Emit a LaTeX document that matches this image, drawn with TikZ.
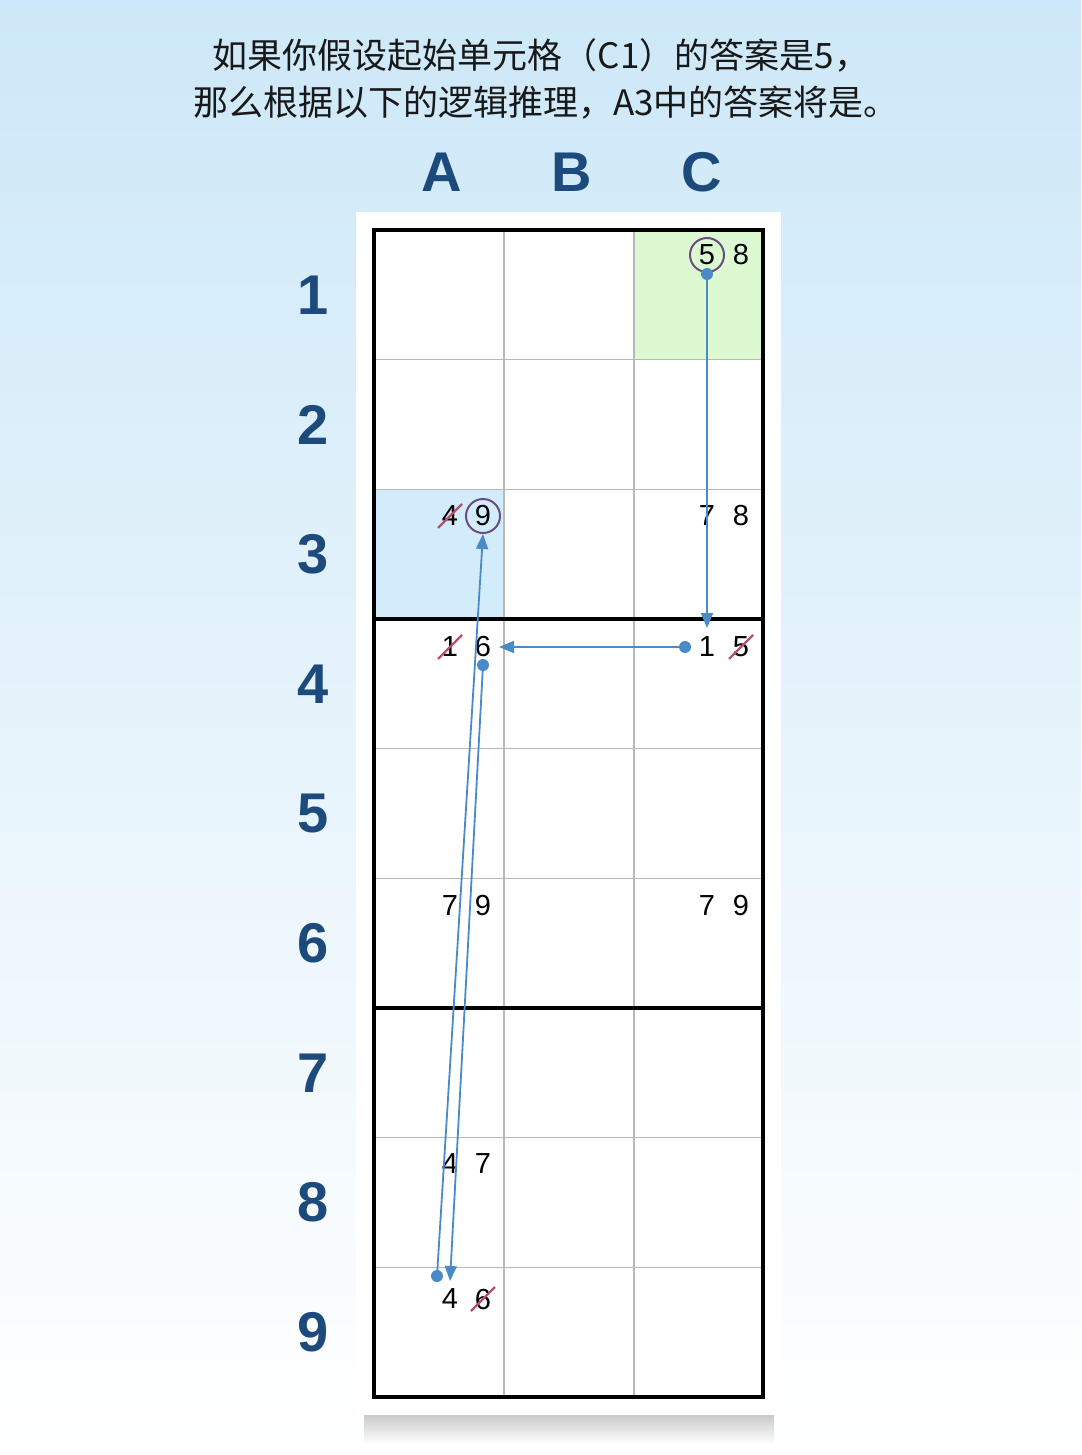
\documentclass[tikz,border=0pt]{standalone}
\usepackage{fontspec}
\setmainfont{Liberation Sans}
\newfontfamily\cjk{Noto Sans CJK SC}
\usetikzlibrary{arrows.meta}
\definecolor{labelblue}{HTML}{1D4A7C}
\definecolor{arrowblue}{HTML}{4A8AC9}
\definecolor{strikered}{HTML}{B5506E}
\definecolor{ringpurple}{HTML}{6B4C80}
\definecolor{skytop}{HTML}{CDE8F8}
\definecolor{cellgreen}{HTML}{DDF9D2}
\definecolor{cellblue}{HTML}{D2ECFB}
\definecolor{gridgray}{HTML}{B8B8B8}
\tikzset{
  cand/.style={font=\fontsize{14.5}{14.5}\selectfont, inner sep=0pt},
  headlabel/.style={font=\fontsize{28}{28}\selectfont\bfseries, text=labelblue},
  titletext/.style={font=\cjk\fontsize{17.5}{17.5}\selectfont, text=black!90},
  ring/.style={draw=ringpurple, line width=1pt, circle, minimum size=17pt, inner sep=0pt},
  strike/.style={strikered, line width=1.2pt},
  chain/.style={draw=arrowblue, line width=0.9pt, -{Triangle[length=7.5pt,width=6pt]}},
  dot/.style={fill=arrowblue}
}

\begin{document}
\begin{tikzpicture}[x=0.5pt,y=-0.5pt]
			\useasboundingbox (0,0) rectangle (1081,1455);
			\shade[top color=skytop, middle color=skytop!45!white, bottom color=white] (0,0) rectangle (1081,1455);
			\shade[top color=gray!45, bottom color=white] (364,1413) rectangle (774,1444);
			\fill[white] (356,212) rectangle (781,1415);
			\node[titletext] (titleone) at (541,55) {如果你假设起始单元格（C1）的答案是5，};
			\node[titletext] (titletwo) at (546,103) {那么根据以下的逻辑推理，A3中的答案将是。};
			\foreach \c/\x in {A/442,B/572,C/702}
			\node[headlabel] (col\c) at (\x,172) {\c};
			\foreach \r in {1,...,9}
			\node[headlabel] (row\r) at (313,{230+129.67*(\r-0.5)}) {\r};
			\fill[cellgreen] (634,230) rectangle (763,359.67);
			\fill[cellblue] (374,489.33) rectangle (504,619);
			\foreach \x in {504,634}
			\draw[gridgray, line width=0.75pt] (\x,230) -- (\x,1397);
			\foreach \i in {1,2,4,5,7,8}
			\draw[gridgray, line width=0.75pt] (374,{230+129.67*\i}) -- (763,{230+129.67*\i});
			\foreach \i in {3,6}
			\draw[black, line width=2pt] (374,{230+129.67*\i}) -- (763,{230+129.67*\i});
			\draw[black, line width=2pt] (374,230) rectangle (763,1397);
			\node[cand] (c1five) at (707,255) {5};
			\node[ring] (c1ring) at (707,255) {};
			\node[cand] (c1eight) at (741,255) {8};
			\node[cand] (a3four) at (450,516) {4};
			\node[cand] (a3nine) at (483,516) {9};
			\node[ring] (a3ring) at (483,516) {};
			\node[cand] (c3seven) at (707,516) {7};
			\node[cand] (c3eight) at (741,516) {8};
			\node[cand] (a4one) at (450,647) {1};
			\node[cand] (a4six) at (483,647) {6};
			\node[cand] (c4one) at (707,647) {1};
			\node[cand] (c4five) at (741,647) {5};
			\node[cand] (a6seven) at (450,906) {7};
			\node[cand] (a6nine) at (483,906) {9};
			\node[cand] (c6seven) at (707,906) {7};
			\node[cand] (c6nine) at (741,906) {9};
			\node[cand] (a8four) at (450,1164) {4};
			\node[cand] (a8seven) at (483,1164) {7};
			\node[cand] (a9four) at (450,1299) {4};
			\node[cand] (a9six) at (483,1299) {6};
			\foreach \n in {a3four,a4one,c4five,a9six}
			\draw[strike] ([shift={(-12,12)}]\n.center) -- ([shift={(12,-12)}]\n.center);
			\coordinate (c1dot) at (707,274);
			\coordinate (c4tip) at (707,628);
			\coordinate (c4dot) at (685,647);
			\coordinate (a4tip) at (499,647);
			\coordinate (a4dot) at (483,665);
			\coordinate (a9tip) at (450,1281);
			\coordinate (a9dot) at (437,1276);
			\coordinate (a3tip) at (483,534);
			\draw[chain] (c1dot) -- (c4tip);
			\draw[chain] (c4dot) -- (a4tip);
			\draw[chain] (a4dot) -- (a9tip);
			\draw[chain] (a9dot) -- (a3tip);
			\foreach \d in {c1dot,c4dot,a4dot,a9dot}
			\fill[dot] (\d) circle (3pt);
		\end{tikzpicture}
\end{document}
